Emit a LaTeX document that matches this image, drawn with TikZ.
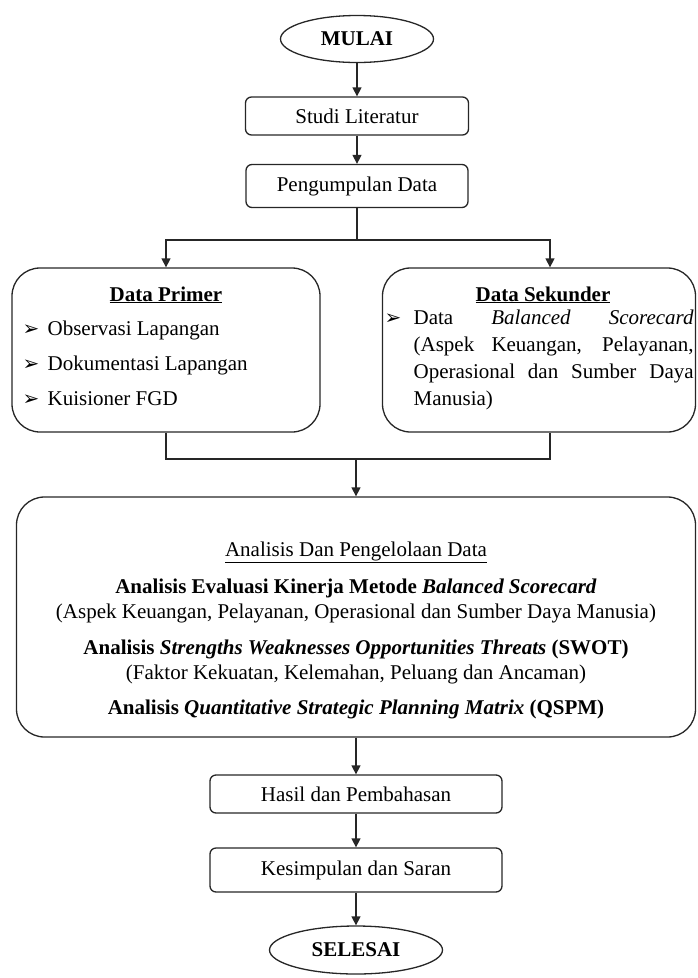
\documentclass[tikz,border=0pt]{standalone}
\usepackage{fontspec}
\setmainfont{Liberation Serif}
\newfontfamily\dejavu{DejaVu Sans}
\usetikzlibrary{arrows.meta,shapes.geometric}
\newcommand{\mainsize}{\fontsize{21}{27}\selectfont}
\begin{document}
\begin{tikzpicture}[x=1pt,y=-1pt,
  line width=1.3pt,
  every node/.style={inner sep=0pt, font=\mainsize},
  linebox/.style={draw=black!85, rounded corners=6pt, minimum width=#1},
  bigbox/.style={draw=black!85, rounded corners=28pt},
  oval/.style={draw=black!85, ellipse, font=\mainsize\bfseries},
  conn/.style={draw=black!85},
  arr/.style={draw=black!85, -{Triangle[width=9pt,length=9pt]}},
  bul/.style={anchor=base, font=\dejavu\fontsize{20}{20}\selectfont},
  txt/.style={anchor=base west},
  ctxt/.style={anchor=base},
]
\useasboundingbox (0,0) rectangle (697,978);

% top chain
\node[oval, minimum width=153pt, minimum height=47pt] (mulai) at (357,39) {MULAI};
\node[linebox=223pt, minimum height=38pt] (studi) at (357,116) {Studi Literatur};
\node[linebox=222pt, minimum height=43pt] (kumpul) at (357,186) {Pengumpulan Data};

% data boxes
\node[bigbox, minimum width=308pt, minimum height=164pt] (primer) at (166,350) {};
\node[bigbox, minimum width=313pt, minimum height=164pt] (sekunder) at (539,350) {};

\node[ctxt, font=\mainsize\bfseries] (ptitle) at (166,301) {\underline{Data Primer}};
\node[bul] (pb1) at (31,335) {➢};
\node[txt] (pt1) at (47,335) {Observasi Lapangan};
\node[bul] (pb2) at (31,370) {➢};
\node[txt] (pt2) at (47,370) {Dokumentasi Lapangan};
\node[bul] (pb3) at (31,405) {➢};
\node[txt] (pt3) at (47,405) {Kuisioner FGD};

\node[ctxt, font=\mainsize\bfseries] (stitle) at (543,301) {\underline{Data Sekunder}};
\node[bul] (sb1) at (393,324) {➢};
\node[anchor=north west, text width=280pt, align=justify] (spar) at (413,305.1)
  {\strut Data \textit{Balanced} \textit{Scorecard}\linebreak
   (Aspek Keuangan, Pelayanan,\linebreak
   Operasional dan Sumber Daya\linebreak
   Manusia)};

% analysis box
\node[bigbox, minimum width=679pt, minimum height=240pt] (analisis) at (356,617) {};
\node[ctxt] (a0) at (356,556) {\underline{Analisis Dan Pengelolaan Data}};
\node[ctxt] (a1) at (356,593) {\textbf{Analisis Evaluasi Kinerja Metode \textit{Balanced Scorecard}}};
\node[ctxt] (a2) at (356,618) {(Aspek Keuangan, Pelayanan, Operasional dan Sumber Daya Manusia)};
\node[ctxt] (a3) at (356,654) {\textbf{Analisis \textit{Strengths Weaknesses Opportunities Threats} (SWOT)}};
\node[ctxt] (a4) at (356,679) {(Faktor Kekuatan, Kelemahan, Peluang dan Ancaman)};
\node[ctxt] (a5) at (356,714) {\textbf{Analisis \textit{Quantitative Strategic Planning Matrix} (QSPM)}};

% bottom chain
\node[linebox=292pt, minimum height=38pt] (hasil) at (356,794) {Hasil dan Pembahasan};
\node[linebox=292pt, minimum height=44pt] (simpul) at (356,870) {Kesimpulan dan Saran};
\node[oval, minimum width=173pt, minimum height=48pt] (selesai) at (356,950) {SELESAI};

% connectors
\coordinate (split) at (357,240);
\coordinate (merge) at (356,459);
\draw[arr] (mulai) -- (studi);
\draw[arr] (studi) -- (kumpul);
\draw[conn] (kumpul.south) -- (split);
\draw[arr] (split) -| (primer.north);
\draw[arr] (split) -| ([xshift=11pt]sekunder.north);
\draw[conn] (primer.south) |- (merge) -| ([xshift=11pt]sekunder.south);
\draw[arr] (merge) -- (analisis.north);
\draw[arr] (analisis.south) -- (hasil.north);
\draw[arr] (hasil) -- (simpul);
\draw[arr] (simpul) -- (selesai);
\end{tikzpicture}
\end{document}
